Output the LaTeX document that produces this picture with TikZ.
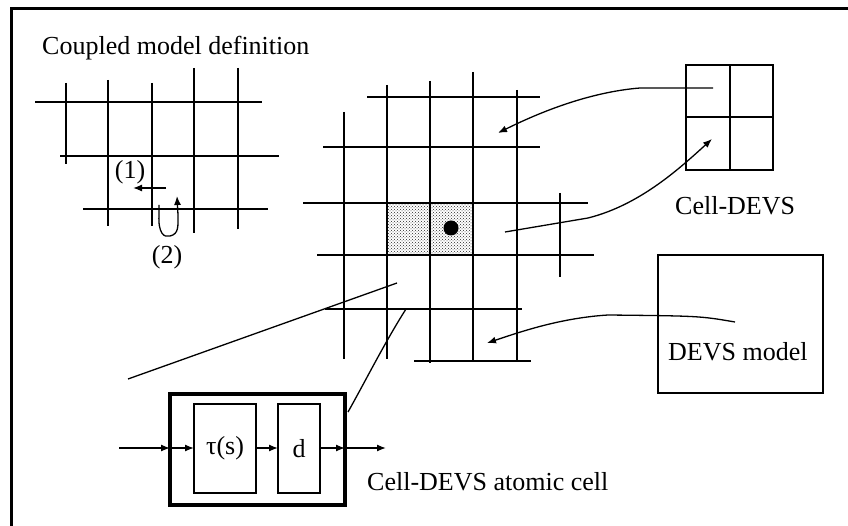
\documentclass[tikz,border=0pt]{standalone}
\usepackage{fontspec}
\setmainfont{Liberation Serif}
\usetikzlibrary{shapes,arrows,arrows.meta,positioning,patterns}

\begin{document}
\begin{tikzpicture}[x=1pt, y=-1pt, >={Latex[length=9pt,width=7pt]}, font=\fontsize{26}{30}\selectfont,
    gridline/.style={line width=2pt},
    link/.style={line width=1.3pt},
    box/.style={draw, rectangle, line width=2pt, outer sep=0pt, inner sep=0pt}]
    \useasboundingbox (0,0) rectangle (848,526);
    % Frame
    \draw[line width=3pt] (11,530) -- (11,9) -- (852,9);

    % Coupled model definition (small grid)
    \node[anchor=base west, inner sep=0pt] (title) at (42,55) {Coupled model definition};
    \foreach \y/\xa/\xb in {102/35/262, 156/60/279, 209/83/268}
        \draw[gridline] (\xa,\y) -- (\xb,\y);
    \foreach \x/\ya/\yb in {66/83/164, 108/80/226, 152/83/226, 194/68/233, 238/68/229}
        \draw[gridline] (\x,\ya) -- (\x,\yb);
    \node[inner sep=0pt] (one) at (130,172) {(1)};
    \node[inner sep=0pt] (two) at (167,257) {(2)};
    \coordinate (oneA) at (166,188);
    \coordinate (oneB) at (133,188);
    \draw[->, link] (oneA) -- (oneB);
    \coordinate (twoA) at (159,205);
    \coordinate (twoB) at (177,196);
    \draw[->, link] (twoA) -- (159,215) .. controls (158,233) and (164,238) .. (170,236)
        .. controls (179,234) and (178,226) .. (178,215) -- (twoB);

    % Cell space (big grid)
    \fill[pattern=crosshatch dots, pattern color=black!85] (387,203) rectangle (473,255);
    \foreach \y/\xa/\xb in {97/367/540, 147/323/540, 203/303/588, 255/317/594, 309/325/522, 361/414/531}
        \draw[gridline] (\xa,\y) -- (\xb,\y);
    \foreach \x/\ya/\yb in {344/112/359, 387/85/359, 430/81/363, 473/72/361, 517/90/361, 560/193/277}
        \draw[gridline] (\x,\ya) -- (\x,\yb);
    \fill (451,228) circle (7.5);

    % Cell-DEVS
    \node[box, minimum width=87, minimum height=105] (celldevs) at (729.5,117.5) {};
    \draw[gridline] (celldevs.north) -- (celldevs.south);
    \draw[gridline] (celldevs.west) -- (celldevs.east);
    \node[anchor=base west, inner sep=0pt] (celllabel) at (675,215) {Cell-DEVS};

    % DEVS model
    \node[box, minimum width=165, minimum height=138] (devs) at (740.5,324) {};
    \node[anchor=base west, inner sep=0pt] (devslabel) at (668,360) {DEVS model};

    % Links between Cell-DEVS, DEVS model and the cell space
    \coordinate (cdA) at (713,88);
    \coordinate (cdB) at (498,133);
    \draw[->, link] (cdA) -- (640,88) .. controls (590,92) and (540,112) .. (cdB);
    \coordinate (spA) at (505,232);
    \coordinate (spB) at (712,139);
    \draw[->, link] (spA) -- (588,218) .. controls (640,205) and (680,168) .. (spB);
    \coordinate (dvA) at (735,322);
    \coordinate (dvB) at (487,343);
    \draw[->, link] (dvA) .. controls (700,316) .. (608,315) .. controls (560,318) and (520,332) .. (dvB);

    % Cell-DEVS atomic cell
    \node[box, line width=4pt, minimum width=175, minimum height=111] (cell) at (257.5,449.5) {};
    \node[box, minimum width=62, minimum height=89] (tau) at (225,448.5) {τ(s)};
    \node[box, minimum width=42, minimum height=89] (dd) at (299,448.5) {d};
    \node[anchor=base west, inner sep=0pt] (celltext) at (367,490) {Cell-DEVS atomic cell};
    \coordinate (in) at (119,448);
    \coordinate (out) at (386,448);
    \draw[->, link] (in) -- (cell.west |- in);
    \draw[->, link] (cell.west |- in) -- (tau.west |- in);
    \draw[->, link] (tau.east |- in) -- (dd.west |- in);
    \draw[->, link] (dd.east |- in) -- (cell.east |- in);
    \draw[->, link] (cell.east |- in) -- (out);

    % Zoom lines from the cell space to the atomic cell
    \coordinate (zmA) at (397,283);
    \coordinate (zmB) at (128,379);
    \draw[link] (zmA) -- (zmB);
    \coordinate (zmC) at (406,309);
    \coordinate (zmD) at (348,412);
    \draw[link] (zmC) .. controls (385,342) and (366,380) .. (zmD);
\end{tikzpicture}
\end{document}
